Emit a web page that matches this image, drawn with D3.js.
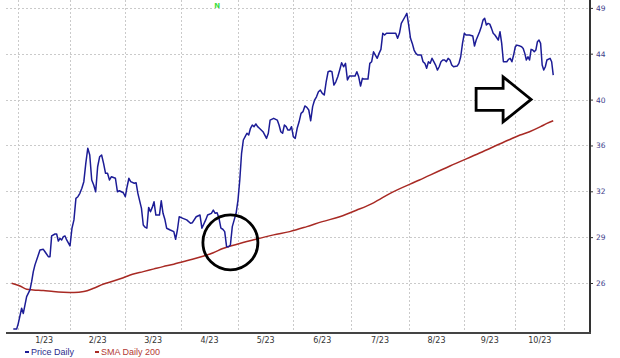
<!DOCTYPE html>
<html>
<head>
<meta charset="utf-8">
<script src="https://cdn.jsdelivr.net/npm/d3@7"></script>
<style>
  body { margin: 0; background: #fff; }
  svg { display: block; }
</style>
</head>
<body>
<svg id="chart" width="620" height="358"></svg>
<script>
// ---- data ----
const priceDates = [
  "2022-12-29", "2022-12-31", "2023-01-01", "2023-01-03", "2023-01-04", "2023-01-06", "2023-01-08", "2023-01-09", "2023-01-10", "2023-01-11",
  "2023-01-13", "2023-01-14", "2023-01-16", "2023-01-17", "2023-01-19", "2023-01-20", "2023-01-21", "2023-01-23", "2023-01-24", "2023-01-25",
  "2023-01-26", "2023-01-27", "2023-01-28", "2023-01-29", "2023-01-30", "2023-02-01", "2023-02-02", "2023-02-03", "2023-02-04", "2023-02-05",
  "2023-02-06", "2023-02-07", "2023-02-08", "2023-02-09", "2023-02-10", "2023-02-11", "2023-02-12", "2023-02-13", "2023-02-14", "2023-02-15",
  "2023-02-16", "2023-02-17", "2023-02-18", "2023-02-19", "2023-02-20", "2023-02-21", "2023-02-22", "2023-02-24", "2023-02-25", "2023-02-26",
  "2023-02-28", "2023-03-01", "2023-03-02", "2023-03-03", "2023-03-04", "2023-03-06", "2023-03-07", "2023-03-08", "2023-03-10", "2023-03-11",
  "2023-03-12", "2023-03-13", "2023-03-14", "2023-03-15", "2023-03-16", "2023-03-17", "2023-03-18", "2023-03-19", "2023-03-20", "2023-03-21",
  "2023-03-22", "2023-03-23", "2023-03-24", "2023-03-26", "2023-03-28", "2023-03-29", "2023-03-30", "2023-03-31", "2023-04-02", "2023-04-04",
  "2023-04-06", "2023-04-07", "2023-04-09", "2023-04-11", "2023-04-12", "2023-04-14", "2023-04-15", "2023-04-17", "2023-04-18", "2023-04-19",
  "2023-04-20", "2023-04-21", "2023-04-22", "2023-04-23", "2023-04-24", "2023-04-25", "2023-04-26", "2023-04-27", "2023-04-28", "2023-04-29",
  "2023-04-30", "2023-05-01", "2023-05-02", "2023-05-03", "2023-05-04", "2023-05-05", "2023-05-06", "2023-05-07", "2023-05-08", "2023-05-09",
  "2023-05-10", "2023-05-11", "2023-05-12", "2023-05-13", "2023-05-15", "2023-05-17", "2023-05-18", "2023-05-19", "2023-05-21", "2023-05-23",
  "2023-05-24", "2023-05-25", "2023-05-26", "2023-05-27", "2023-05-28", "2023-05-29", "2023-05-30", "2023-05-31", "2023-06-01", "2023-06-02",
  "2023-06-03", "2023-06-04", "2023-06-05", "2023-06-06", "2023-06-07", "2023-06-08", "2023-06-09", "2023-06-10", "2023-06-11", "2023-06-12",
  "2023-06-13", "2023-06-14", "2023-06-15", "2023-06-16", "2023-06-17", "2023-06-18", "2023-06-19", "2023-06-20", "2023-06-21", "2023-06-22",
  "2023-06-23", "2023-06-24", "2023-06-25", "2023-06-26", "2023-06-27", "2023-06-28", "2023-06-29", "2023-06-30", "2023-07-01", "2023-07-03",
  "2023-07-04", "2023-07-05", "2023-07-06", "2023-07-07", "2023-07-08", "2023-07-10", "2023-07-11", "2023-07-12", "2023-07-13", "2023-07-14",
  "2023-07-15", "2023-07-16", "2023-07-17", "2023-07-18", "2023-07-19", "2023-07-20", "2023-07-22", "2023-07-25", "2023-07-26", "2023-07-27",
  "2023-07-28", "2023-07-30", "2023-07-31", "2023-08-01", "2023-08-02", "2023-08-03", "2023-08-04", "2023-08-05", "2023-08-06", "2023-08-08",
  "2023-08-09", "2023-08-10", "2023-08-11", "2023-08-12", "2023-08-13", "2023-08-14", "2023-08-15", "2023-08-16", "2023-08-17", "2023-08-18",
  "2023-08-19", "2023-08-20", "2023-08-21", "2023-08-22", "2023-08-23", "2023-08-24", "2023-08-25", "2023-08-26", "2023-08-28", "2023-08-29",
  "2023-08-30", "2023-08-31", "2023-09-01", "2023-09-02", "2023-09-04", "2023-09-06", "2023-09-07", "2023-09-08", "2023-09-10", "2023-09-11",
  "2023-09-12", "2023-09-13", "2023-09-14", "2023-09-15", "2023-09-16", "2023-09-17", "2023-09-18", "2023-09-19", "2023-09-21", "2023-09-22",
  "2023-09-23", "2023-09-24", "2023-09-26", "2023-09-27", "2023-09-28", "2023-09-29", "2023-09-30", "2023-10-01", "2023-10-02", "2023-10-04",
  "2023-10-05", "2023-10-06", "2023-10-07", "2023-10-08", "2023-10-09", "2023-10-10", "2023-10-11", "2023-10-12", "2023-10-13", "2023-10-14",
  "2023-10-15", "2023-10-16", "2023-10-17", "2023-10-18", "2023-10-19", "2023-10-20", "2023-10-21", "2023-10-23", "2023-10-24", "2023-10-25"
];

const priceValues = [
  23.38, 23.38, 23.69, 24.53, 24.24, 25.20, 25.59, 26.08, 26.69, 27.11,
  27.73, 28.06, 28.10, 27.94, 27.63, 27.63, 28.98, 29.11, 29.11, 28.64,
  28.82, 28.71, 28.93, 28.98, 28.71, 28.32, 29.50, 30.07, 31.60, 31.72,
  31.97, 32.34, 32.84, 34.26, 35.47, 34.92, 32.97, 32.59, 32.09, 33.99,
  34.78, 34.92, 34.26, 33.48, 33.48, 32.97, 33.22, 33.10, 32.09, 32.16,
  32.01, 31.72, 32.46, 33.10, 32.84, 32.72, 32.76, 31.97, 30.88, 29.72,
  29.57, 29.50, 30.95, 30.64, 30.95, 31.35, 30.41, 30.41, 30.41, 31.43,
  30.53, 30.12, 29.50, 29.38, 29.27, 28.76, 29.38, 30.29, 30.18, 30.07,
  29.84, 29.88, 30.29, 30.41, 29.50, 30.07, 30.41, 30.53, 30.76, 30.53,
  30.57, 30.18, 29.50, 29.43, 29.27, 28.27, 28.27, 28.38, 29.61, 30.07,
  30.53, 31.48, 32.97, 35.06, 36.15, 36.43, 36.72, 36.57, 37.14, 37.42,
  37.28, 37.51, 37.28, 37.14, 36.85, 36.29, 36.72, 37.85, 38.00, 37.85,
  37.42, 36.85, 36.72, 37.42, 37.28, 36.99, 36.99, 37.28, 36.43, 36.29,
  37.14, 37.70, 38.44, 38.59, 39.10, 38.98, 38.74, 37.79, 39.04, 39.64,
  39.94, 40.40, 40.56, 40.25, 40.10, 41.34, 42.31, 42.38, 42.31, 41.03,
  41.34, 41.82, 42.48, 43.20, 42.80, 43.14, 41.51, 41.89, 41.89, 41.89,
  42.31, 41.82, 40.94, 41.67, 41.60, 41.60, 43.14, 43.30, 44.30, 43.97,
  43.64, 44.14, 44.55, 46.23, 46.05, 46.23, 46.23, 46.23, 45.70, 46.23,
  47.30, 48.03, 48.41, 47.12, 45.70, 45.17, 44.48, 44.14, 43.97, 43.97,
  43.30, 43.14, 42.65, 43.30, 43.14, 43.64, 43.30, 42.97, 42.48, 42.80,
  43.30, 43.47, 43.47, 43.30, 43.64, 43.47, 42.97, 42.80, 42.87, 43.14,
  43.80, 45.17, 46.23, 46.05, 46.05, 45.94, 44.89, 45.52, 46.40, 46.94,
  47.66, 47.85, 47.12, 47.30, 47.22, 46.76, 46.23, 46.05, 45.52, 46.40,
  45.17, 43.30, 43.30, 43.54, 43.64, 43.30, 43.97, 44.82, 44.99, 44.89,
  44.82, 44.65, 44.14, 43.47, 43.80, 43.47, 44.55, 44.48, 44.30, 44.48,
  45.34, 45.52, 45.17, 42.97, 42.48, 42.80, 43.47, 43.64, 43.30, 41.98
];

const smaDates = [
  "2022-12-28", "2023-01-02", "2023-01-06", "2023-01-10", "2023-01-16", "2023-01-22", "2023-01-28",
  "2023-02-03", "2023-02-08", "2023-02-13", "2023-02-18", "2023-02-23", "2023-02-28", "2023-03-05",
  "2023-03-11", "2023-03-17", "2023-03-22", "2023-03-28", "2023-04-02", "2023-04-07", "2023-04-13",
  "2023-04-18", "2023-04-23", "2023-05-02", "2023-05-11", "2023-05-21", "2023-05-30", "2023-06-08",
  "2023-06-16", "2023-06-25", "2023-07-04", "2023-07-13", "2023-07-22", "2023-08-07", "2023-08-24",
  "2023-09-10", "2023-09-27", "2023-10-04", "2023-10-10", "2023-10-17", "2023-10-21", "2023-10-25"
];

const smaValues = [
  25.98, 25.82, 25.63, 25.59, 25.55, 25.49, 25.45,
  25.43, 25.49, 25.69, 25.94, 26.12, 26.32, 26.53,
  26.69, 26.86, 27.00, 27.15, 27.31, 27.46, 27.67,
  27.88, 28.15, 28.48, 28.76, 29.05, 29.27, 29.61,
  29.95, 30.29, 30.76, 31.28, 31.97, 32.97, 34.05,
  35.08, 36.15, 36.57, 36.85, 37.28, 37.56, 37.79
];

const yTicks = [26, 28.9, 32.12, 35.7, 39.68, 44.11, 49.02];
const monthStarts = [
  "2023-01-01", "2023-02-01", "2023-03-01", "2023-04-01", "2023-05-01", "2023-06-01",
  "2023-07-01", "2023-08-01", "2023-09-01", "2023-10-01", "2023-11-01"
];
const monthLabels = ["1/23", "2/23", "3/23", "4/23", "5/23", "6/23", "7/23", "8/23", "9/23", "10/23"];
const seriesNames = ["Price Daily", "SMA Daily 200"];

// annotations drawn on top of the chart
const circleMark = { date: "2023-04-27", price: 28.55 };
const arrowMark = { date: "2023-10-11", price: 39.7 };
const newsMark = { date: "2023-04-20", label: "N" };

// ---- layout ----
const width = 620;
const height = 358;
const plot = { left: 6, right: 590, top: 0, bottom: 333 };
// month gridlines in the source are not evenly spaced, so the time scale is piecewise
const monthGridX = [18.3, 70, 125.3, 181, 238, 293.3, 351.3, 408.7, 464.3, 515.3, 564.3];
const blue = "#1c1c96";
const red = "#a82a24";

const parse = d3.timeParse("%Y-%m-%d");
const price = priceDates.map((d, i) => ({ date: parse(d), value: priceValues[i] }));
const sma = smaDates.map((d, i) => ({ date: parse(d), value: smaValues[i] }));
const months = monthStarts.map(parse);

const xScale = d3.scaleTime().domain(months).range(monthGridX);
const yScale = d3.scaleLog().domain([23.17, 49.92]).range([plot.bottom, plot.top]);

const svg = d3.select("#chart");
svg.append("rect").attr("width", width).attr("height", height).attr("fill", "#fff");

/* ***** grid ***** */
const grid = svg.append("g").attr("stroke", "#cacaca").attr("stroke-width", 1).attr("stroke-dasharray", "2,2");
grid.selectAll("line.h")
  .data(yTicks)
  .join("line")
  .attr("class", "h")
  .attr("x1", plot.left)
  .attr("x2", plot.right)
  .attr("y1", d => Math.round(yScale(d)) + 0.5)
  .attr("y2", d => Math.round(yScale(d)) + 0.5);
grid.selectAll("line.v")
  .data(months)
  .join("line")
  .attr("class", "v")
  .attr("x1", d => Math.round(xScale(d)) + 0.5)
  .attr("x2", d => Math.round(xScale(d)) + 0.5)
  .attr("y1", plot.top)
  .attr("y2", plot.bottom);

/* ***** lines ***** */
const line = d3.line().x(d => xScale(d.date)).y(d => yScale(d.value));

svg.append("path")
  .datum(sma)
  .attr("fill", "none")
  .attr("stroke", red)
  .attr("stroke-width", 1.5)
  .attr("d", line.curve(d3.curveMonotoneX));

svg.append("path")
  .datum(price)
  .attr("fill", "none")
  .attr("stroke", blue)
  .attr("stroke-width", 1.5)
  .attr("stroke-linejoin", "round")
  .attr("d", line.curve(d3.curveLinear));

/* ***** axes ***** */
const yAxis = d3.axisRight(yScale)
  .tickValues(yTicks)
  .tickFormat(d3.format(".0f"))
  .tickSize(3)
  .tickPadding(3);

const yAxisG = svg.append("g")
  .attr("transform", `translate(${plot.right},0)`)
  .call(yAxis);
yAxisG.select(".domain").remove();
yAxisG.selectAll(".tick line").attr("stroke", "#333");
yAxisG.selectAll(".tick text")
  .attr("fill", "#3d3d8a")
  .attr("font-family", "DejaVu Sans, Verdana, sans-serif")
  .attr("font-size", 7.5);

svg.append("line")
  .attr("x1", plot.right).attr("x2", plot.right)
  .attr("y1", plot.top).attr("y2", plot.bottom + 1)
  .attr("stroke", "#333").attr("stroke-width", 2);

svg.append("line")
  .attr("x1", plot.left).attr("x2", plot.right + 1)
  .attr("y1", plot.bottom).attr("y2", plot.bottom)
  .attr("stroke", "#444").attr("stroke-width", 2);

svg.append("g")
  .selectAll("text")
  .data(monthLabels)
  .join("text")
  .attr("x", (d, i) => (xScale(months[i]) + xScale(months[i + 1])) / 2)
  .attr("y", plot.bottom + 10)
  .attr("text-anchor", "middle")
  .attr("font-family", "DejaVu Sans, Verdana, sans-serif")
  .attr("font-size", 8)
  .attr("fill", "#333")
  .text(d => d);

/* ***** legend ***** */
const legend = svg.append("g").attr("font-family", "Liberation Sans, Arial, sans-serif").attr("font-size", 9);
const legendX = [25, 95];
seriesNames.forEach((name, i) => {
  const color = i === 0 ? blue : red;
  legend.append("line")
    .attr("x1", legendX[i]).attr("x2", legendX[i] + 4)
    .attr("y1", 352).attr("y2", 352)
    .attr("stroke", color).attr("stroke-width", 2);
  legend.append("text")
    .attr("x", legendX[i] + 6)
    .attr("y", 355)
    .attr("fill", i === 0 ? "#2c2c8c" : "#b33a34")
    .text(name);
});

/* ***** annotations ***** */
svg.append("circle")
  .attr("cx", xScale(parse(circleMark.date)))
  .attr("cy", yScale(circleMark.price))
  .attr("r", 27.5)
  .attr("fill", "none")
  .attr("stroke", "#000")
  .attr("stroke-width", 2.8);

const arrowShape = [[-55, -11], [-28, -11], [-28, -22.5], [0, 0], [-28, 22.5], [-28, 11], [-55, 11]];
svg.append("polygon")
  .attr("transform", `translate(${xScale(parse(arrowMark.date))},${yScale(arrowMark.price)})`)
  .attr("points", arrowShape.map(p => p.join(",")).join(" "))
  .attr("fill", "#fff")
  .attr("stroke", "#000")
  .attr("stroke-width", 2.8)
  .attr("stroke-linejoin", "miter");

svg.append("text")
  .attr("x", xScale(parse(newsMark.date)))
  .attr("y", 8)
  .attr("text-anchor", "middle")
  .attr("font-family", "DejaVu Sans, sans-serif")
  .attr("font-weight", "bold")
  .attr("font-size", 7)
  .attr("fill", "#3ddc3d")
  .text(newsMark.label);
</script>
</body>
</html>
